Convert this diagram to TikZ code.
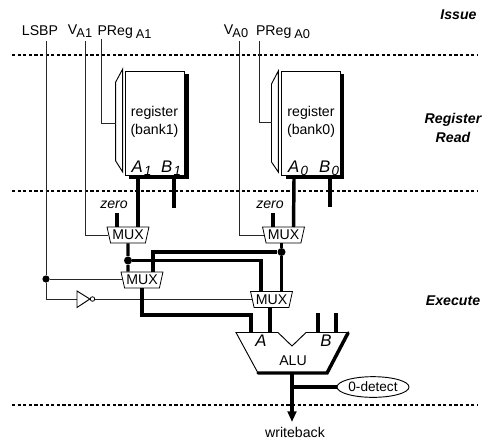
\documentclass[tikz,border=0pt]{standalone}
\usepackage{fontspec}
\setmainfont{Liberation Sans}
\usetikzlibrary{shapes.geometric,arrows.meta}
\newcommand{\lowsub}[1]{\kern-0.6pt\lower2.6pt\hbox{\fontsize{9.6pt}{10pt}\selectfont #1}}
\newcommand{\portlab}[2]{\fontsize{12.6pt}{14pt}\itshape #1\kern1pt\lower2.6pt\hbox{\fontsize{10pt}{10pt}\selectfont #2}}
\tikzset{
  thinwire/.style={line width=0.75pt,black!85},
  fatwire/.style={line width=2.6pt,black},
  phase/.style={line width=0.8pt,dash pattern=on 2.4pt off 1.8pt},
  txt/.style={inner sep=0pt,font=\fontsize{10.6pt}{13pt}\selectfont,align=center},
  stage/.style={inner sep=0pt,font=\fontsize{10.6pt}{14.5pt}\selectfont\bfseries\itshape,align=center},
  muxbox/.style={draw,line width=0.6pt,fill=white,trapezium,shape border rotate=180,trapezium stretches=true,
    trapezium left angle=72,trapezium right angle=72,minimum width=31.5pt,minimum height=12pt,inner sep=0pt,
    font=\fontsize{10.6pt}{12pt}\selectfont},
  regbox/.style={draw,line width=0.7pt,fill=white,minimum width=43.8pt,minimum height=78pt,inner sep=0pt,
    font=\fontsize{10.6pt}{14pt}\selectfont,align=center},
  dot/.style={circle,fill=black,inner sep=0pt,minimum size=6pt},
}
\begin{document}
\begin{tikzpicture}[x=0.75pt,y=-0.75pt]
\useasboundingbox (0,0) rectangle (484,440);
% phase boundaries
\foreach \y/\n in {55/a,191/b,405/c}{
  \coordinate (ph\n l) at (12,\y); \coordinate (ph\n r) at (477,\y);
  \draw[phase] (ph\n l) -- (ph\n r);
}
\node[stage] (issue) at (458.5,15) {Issue};
\node[stage] (rread) at (453,128) {Register\\Read};
\node[stage] (exec) at (453,301) {Execute};
% labels
\node[txt] (lsbp) at (40,31) {LSBP};
\node[txt,anchor=base] (va1) at (80,34) {V\lowsub{A1}};
\node[txt,anchor=base] (pa1) at (124.5,35) {PReg\,\kern1pt\lowsub{A1}};
\node[txt,anchor=base] (va0) at (236,34) {V\lowsub{A0}};
\node[txt,anchor=base] (pa0) at (283,35) {PReg\,\kern1pt\lowsub{A0}};
% register banks
\fill (129,74) -| (188.5,179) -| (129,74) -- cycle;
\fill (285.5,74) -| (344,179) -| (285.5,74) -- cycle;
\draw[line width=0.7pt,fill=white] (122.7,69) -- (115.7,82) -- (115.7,161) -- (122.7,172) -- cycle;
\draw[line width=0.7pt,fill=white] (278.3,71) -- (271.5,84) -- (271.5,162) -- (278.3,172) -- cycle;
\node[regbox] (reg1) at (155,123) {};
\node[regbox] (reg0) at (311,123) {};
\node[txt] (reg1t) at (154.5,122) {register\\(bank1)};
\node[txt] (reg0t) at (311,122) {register\\(bank0)};
\node[inner sep=0pt,anchor=base] (a1) at (141.5,172) {\portlab{A}{1}};
\node[inner sep=0pt,anchor=base] (b1) at (171,172) {\portlab{B}{1}};
\node[inner sep=0pt,anchor=base] (a0) at (298,172) {\portlab{A}{0}};
\node[inner sep=0pt,anchor=base] (b0) at (329,172) {\portlab{B}{0}};
\coordinate (pr1) at (115.7,123);
\coordinate (pr0) at (271.5,122);
% muxes
\node[muxbox] (m1) at (128,235) {MUX};
\node[muxbox] (m0) at (283.5,235) {MUX};
\node[muxbox] (m2) at (142,280) {MUX};
\node[muxbox] (m3) at (271.5,299.5) {MUX};
% zero labels
\node[txt,font=\fontsize{10.6pt}{12pt}\selectfont\itshape] (z1) at (114,205) {zero};
\node[txt,font=\fontsize{10.6pt}{12pt}\selectfont\itshape] (z0) at (270,205) {zero};
\coordinate (z1e) at (117,213);
\coordinate (z0e) at (273,213);
% thin wires
\coordinate (ls) at (46,41);
\coordinate (vt1) at (85.5,41);
\coordinate (pt1) at (101.7,39);
\coordinate (vt0) at (239.5,41);
\coordinate (pt0) at (259,41);
\node[dot,minimum size=5.4pt] (lsd) at (46,279) {};
\coordinate (lsb) at (46,299);
\node[circle,draw,fill=white,line width=0.6pt,inner sep=0pt,minimum size=3.4pt] (bub) at (92.5,299) {};
\draw[thinwire] (ls) -- (lsd) -- (lsb) -- (77,299);
\draw[line width=0.7pt,fill=white] (77,291) -- (89.8,299) -- (77,307.5) -- cycle;
\draw[thinwire] (lsd) -- (lsd -| m2.west);
\draw[thinwire] (bub) -- (bub -| m3.west);
\draw[thinwire] (vt1) |- (m1.west);
\draw[thinwire] (vt0) |- (m0.west);
\draw[thinwire] (pt1) |- (pr1);
\draw[thinwire] (pt0) |- (pr0);
% fat wires
\coordinate (s1) at (138,179); \coordinate (s2) at (174,179);
\coordinate (s3) at (294,179); \coordinate (s4) at (330,179);
\coordinate (e2) at (174,208); \coordinate (e4) at (330,207);
\draw[fatwire] (z1e) -- (117,227);
\draw[fatwire] (z0e) -- (273,227);
\draw[fatwire] (s1) -- (138,227);
\draw[fatwire] (s3) -- (293.5,227);
\draw[fatwire] (s2) -- (e2);
\draw[fatwire] (s4) -- (e4);
\node[dot] (d1) at (128,260.5) {};
\node[dot] (d0) at (281.5,252) {};
\draw[fatwire] (m1.south) -- (d1) -- (m2.north -| d1);
\draw[fatwire] (m0.south -| d0) -- (d0) -- (m3.north -| d0);
\draw[fatwire,line join=miter] (d1) -| (261,292);
\draw[fatwire,line join=miter] (153,272) |- (d0);
\coordinate (aluA1) at (251,333);
\coordinate (aluA2) at (270,333);
\coordinate (aluB1) at (318,313);
\coordinate (aluB2) at (336,313);
\draw[fatwire,line join=miter] (142,288) |- (251,315) -- (aluA1);
\draw[fatwire] (m3.south -| aluA2) -- (aluA2);
\draw[fatwire] (aluB1) -- (318,333);
\draw[fatwire] (aluB2) -- (336,333);
% ALU
\draw[line width=0.7pt,fill=white] (236,332.5) -- (278,332.5) -- (292,346) -- (306,332.5) -- (348,332.5) -- (327,373) -- (258,373) -- cycle;
\draw[line width=2.6pt,line cap=round] (348,333) -- (327,373) -- (258,373);
\node[inner sep=0pt,font=\fontsize{12.6pt}{14pt}\selectfont\itshape] (aluA) at (261,340.5) {A};
\node[inner sep=0pt,font=\fontsize{12.6pt}{14pt}\selectfont\itshape] (aluB) at (326,340.5) {B};
\node[txt] (alu) at (293,361) {ALU};
\coordinate (aluout) at (292,373);
\node[draw,ellipse,line width=0.7pt,minimum width=54pt,minimum height=15.5pt,inner sep=0pt,
  font=\fontsize{10.2pt}{12pt}\selectfont] (det) at (373,387) {0-detect};
\node[txt] (wb) at (295,432) {writeback};
\coordinate (wbt) at (292,422);
\draw[fatwire,-{Triangle[length=8pt,width=6.5pt]}] (aluout) -- (wbt);
\draw[fatwire] (aluout |- det) -- (det);
\end{tikzpicture}
\end{document}
